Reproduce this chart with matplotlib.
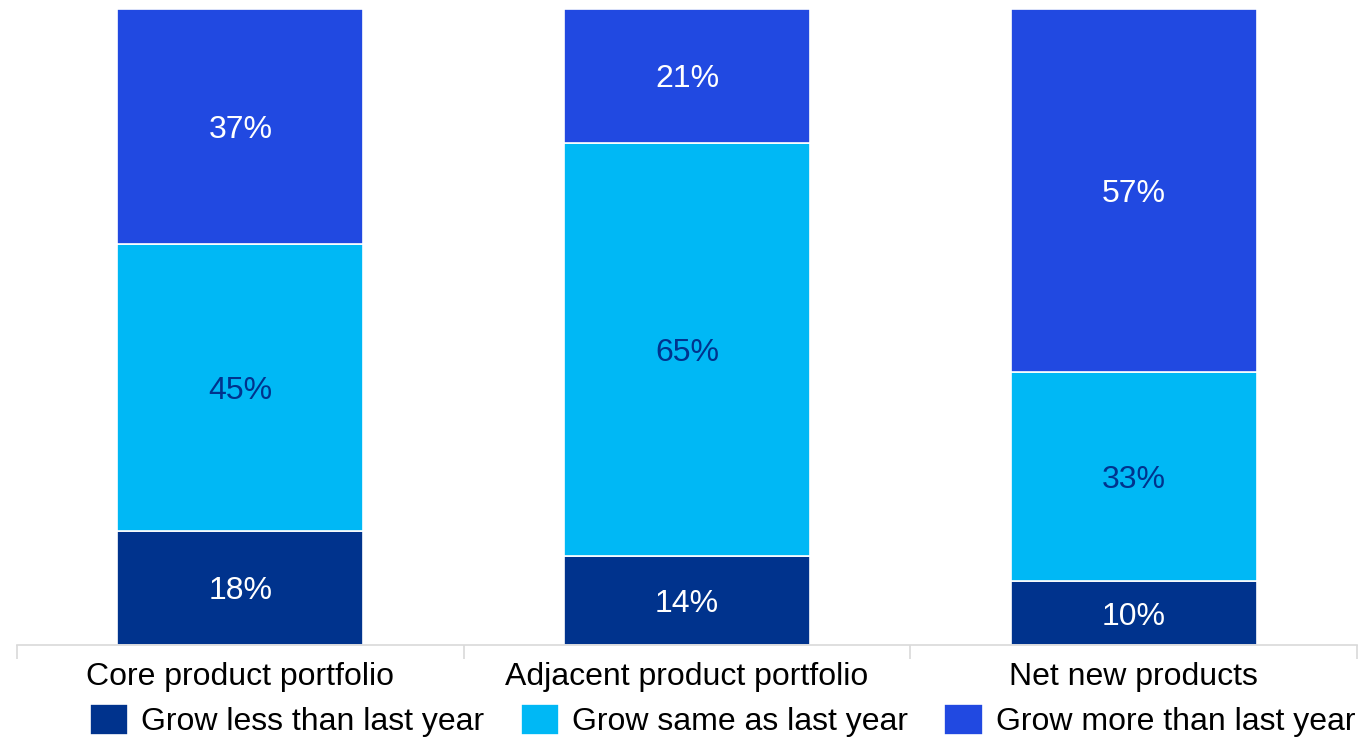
import matplotlib.pyplot as plt
import numpy as np

plt.rcParams['font.family'] = ['Liberation Sans', 'DejaVu Sans']

categories = ['Core product portfolio', 'Adjacent product portfolio', 'Net new products']
series_names = ['Grow less than last year', 'Grow same as last year', 'Grow more than last year']
less = [18, 14, 10]
same = [45, 65, 33]
more = [37, 21, 57]

colors = ['#00338D', '#00B8F5', '#2149E1']
label_colors = ['white', '#00338D', 'white']

W, H = 1363, 740
fig = plt.figure(figsize=(W / 100, H / 100), dpi=100)
ax = fig.add_axes([17 / W, 95 / H, 1340 / W, 636 / H])

x = np.arange(len(categories))
bottom = np.zeros(len(categories))
for vals, name, col, lcol in zip([less, same, more], series_names, colors, label_colors):
    bars = ax.bar(x, vals, width=0.55, bottom=bottom, color=col, edgecolor='white',
                  linewidth=1.2, label=name)
    for b, v in zip(bars, vals):
        ax.text(b.get_x() + b.get_width() / 2, b.get_y() + b.get_height() / 2, f'{v}%',
                ha='center', va='center_baseline', fontsize=23, color=lcol)
    bottom += np.array(vals)

ax.set_xlim(-0.5, len(categories) - 0.5)
ax.set_ylim(0, 100)
ax.set_yticks([])
for s in ['top', 'right', 'left']:
    ax.spines[s].set_visible(False)
ax.spines['bottom'].set_color('#d9d9d9')
ax.spines['bottom'].set_linewidth(1.2)

# category labels, separator ticks between categories
ax.set_xticks(x)
ax.set_xticklabels(categories, fontsize=23)
ax.tick_params(axis='x', which='major', length=0, pad=12)
ax.set_xticks(np.arange(-0.5, len(categories)), minor=True)
ax.tick_params(axis='x', which='minor', length=10, color='#d9d9d9', width=1.2)

fig.legend(loc='center', bbox_to_anchor=(0.53, 0.026), ncol=3, frameon=False,
           fontsize=23, handlelength=1.2, handleheight=1.1, handletextpad=0.4,
           columnspacing=1.15, borderpad=0.1)

fig.savefig('out.png', dpi=100)
